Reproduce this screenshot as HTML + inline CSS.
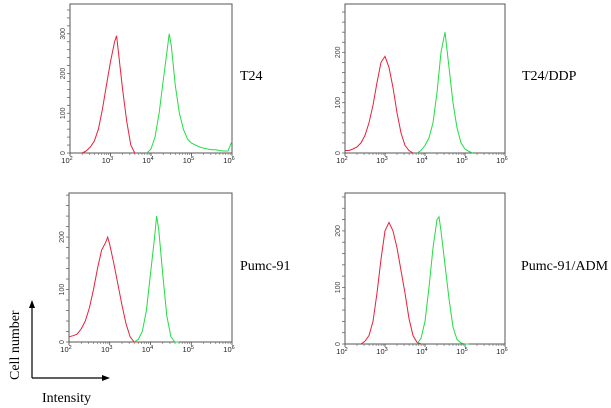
<!DOCTYPE html>
<html><head><meta charset="utf-8"><style>
body{margin:0;background:#fff;width:611px;height:408px;overflow:hidden}
svg{display:block}
text{font-family:"Liberation Sans",sans-serif}
.lab{font-family:"Liberation Serif",serif;font-size:14px;fill:#000}
</style></head><body>
<svg id="c" width="611" height="408">
<text class="lab" x="240" y="80">T24</text>
<text class="lab" x="522" y="80">T24/DDP</text>
<text class="lab" x="240" y="270">Pumc-91</text>
<text class="lab" x="521" y="270">Pumc-91/ADM</text>
<line x1="32" y1="378" x2="32" y2="306" stroke="#000" stroke-width="1.2"/>
<polygon points="32,300 29,308 35,308" fill="#000"/>
<line x1="32" y1="378" x2="104" y2="378" stroke="#000" stroke-width="1.2"/>
<polygon points="110,378 102,375 102,381" fill="#000"/>
<text class="lab" transform="translate(19,380) rotate(-90)">Cell number</text>
<text class="lab" x="42" y="402">Intensity</text>
</svg>
<script>
// panel data: x positions in log10 decades, counts
const tlRedX=[2.3,2.4,2.5,2.6,2.7,2.8,2.9,3.0,3.1,3.15,3.2,3.3,3.4,3.5,3.6];
const tlRedY=[0,5,15,30,60,110,170,230,280,295,250,160,80,20,0];
const tlGreenX=[3.9,4.0,4.1,4.2,4.3,4.4,4.45,4.5,4.6,4.7,4.8,4.9,5.0,5.1,5.2,5.3,5.4,5.5,5.6,5.7,5.8,5.9,6.0];
const tlGreenY=[0,10,40,100,180,260,300,270,170,100,60,35,25,20,15,12,10,8,8,6,5,5,30];
const trRedX=[2.0,2.1,2.2,2.3,2.4,2.5,2.6,2.7,2.8,2.9,3.0,3.1,3.2,3.3,3.4,3.5,3.6,3.7];
const trRedY=[5,5,8,12,20,35,60,95,140,180,192,170,130,80,40,15,5,0];
const trGreenX=[3.8,3.9,4.0,4.1,4.2,4.3,4.4,4.5,4.6,4.7,4.8,4.9,5.0,5.1,5.2];
const trGreenY=[0,5,15,30,60,120,200,240,170,100,50,20,8,3,0];
const blRedX=[2.0,2.1,2.2,2.3,2.4,2.5,2.6,2.7,2.8,2.9,2.95,3.0,3.1,3.2,3.3,3.4,3.5,3.6,3.7];
const blRedY=[10,12,15,25,40,65,100,140,175,190,200,185,150,110,70,35,10,0,0];
const blGreenX=[3.6,3.7,3.8,3.9,4.0,4.1,4.15,4.2,4.3,4.4,4.5,4.6,4.7];
const blGreenY=[0,5,20,60,130,200,240,215,130,50,10,0,0];
const brRedX=[2.4,2.5,2.6,2.7,2.8,2.9,3.0,3.1,3.2,3.3,3.4,3.5,3.6,3.7,3.8,3.9];
const brRedY=[0,5,15,40,90,150,200,215,200,170,130,90,45,15,3,0];
const brGreenX=[3.8,3.9,4.0,4.1,4.2,4.3,4.35,4.4,4.5,4.6,4.7,4.8,4.9,5.0,5.1];
const brGreenY=[0,10,40,100,170,220,225,200,140,80,30,8,2,0,0];
const xTickLabels=["2","3","4","5","6"];
const panels=[
 {n:'t24',l:70,r:232,t:4,b:153,max:375,ticks:[0,100,200,300],s:[[tlRedX,tlRedY,'#e8203a'],[tlGreenX,tlGreenY,'#22dd44']]},
 {n:'t24-ddp',l:345,r:505,t:4,b:153,max:296,ticks:[0,100,200],s:[[trRedX,trRedY,'#e8203a'],[trGreenX,trGreenY,'#22dd44']]},
 {n:'pumc91',l:69,r:232,t:193,b:342,max:284,ticks:[0,100,200],s:[[blRedX,blRedY,'#e8203a'],[blGreenX,blGreenY,'#22dd44']]},
 {n:'pumc91-adm',l:345,r:505,t:193,b:344,max:267,ticks:[0,100,200],s:[[brRedX,brRedY,'#e8203a'],[brGreenX,brGreenY,'#22dd44']]}
];
const svg=document.getElementById('c');const NS='http://www.w3.org/2000/svg';
function mk(tag,a,p){const e=document.createElementNS(NS,tag);for(const k in a)e.setAttribute(k,a[k]);(p||svg).appendChild(e);return e;}
panels.forEach(p=>{
 const g=mk('g',{});
 
 
 const sx=v=>p.l+(v-2)/4*(p.r-p.l);
 const sy=v=>p.b-v/p.max*(p.b-p.t);
 const box=mk('rect',{x:p.l,y:p.t,width:p.r-p.l,height:p.b-p.t,fill:'none',stroke:'#555','stroke-width':1},g);
 
 
 // y minor ticks
 for(let v=0;v<=p.max;v+=20){mk('line',{x1:p.l-3,x2:p.l,y1:sy(v),y2:sy(v),stroke:'#666','stroke-width':0.8},g);}
 p.ticks.forEach(v=>{
  const t=mk('text',{transform:`translate(${p.l-5},${sy(v)}) rotate(-90)`,'text-anchor':'middle','font-size':7,fill:'#444'},g);
  t.textContent=v;
  
  
 });
 xTickLabels.forEach((lb,i)=>{
  const d=+lb;
  const t=mk('text',{x:sx(d)-3,y:p.b+10,'text-anchor':'middle','font-size':7.5,fill:'#222'},g);
  t.textContent='10';
  const s=mk('tspan',{dy:-3,'font-size':5.5},t);s.textContent=lb;
  
  
  mk('line',{x1:sx(d),x2:sx(d),y1:p.b,y2:p.b+3,stroke:'#444','stroke-width':0.8},g);
  if(d<6)for(let m=2;m<10;m++){const xv=sx(d+Math.log10(m));mk('line',{x1:xv,x2:xv,y1:p.b,y2:p.b+2,stroke:'#666','stroke-width':0.6},g);}
 });
 p.s.forEach(([xs,ys,c],k)=>{
  const pts=xs.map((x,i)=>sx(x).toFixed(1)+','+sy(ys[i]).toFixed(1)).join(' ');
  const pl=mk('polyline',{points:pts,fill:'none',stroke:c,'stroke-width':1},g);
  
  
 });
});
</script>
</body></html>
